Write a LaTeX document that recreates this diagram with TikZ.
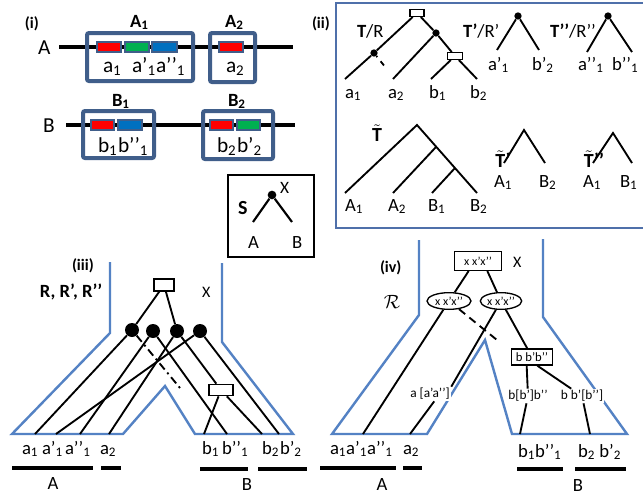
\documentclass[tikz,border=0pt]{standalone}
\usepackage{fontspec}
\setmainfont{Carlito}
\usetikzlibrary{shapes.geometric}
\definecolor{boxblue}{RGB}{64,94,138}
\definecolor{outblue}{RGB}{84,130,196}
\definecolor{iiblue}{RGB}{79,112,170}
\definecolor{gred}{RGB}{255,0,0}
\definecolor{ggreen}{RGB}{0,176,80}
\definecolor{gblue}{RGB}{0,112,192}
\newcommand\subs[1]{\textsubscript{#1}}
\newcommand\fsz[1]{\fontsize{#1}{#1}\selectfont}
\newcommand\tldT{\ensuremath{\tilde{\mbox{\bfseries T}}}}
\begin{document}
\begin{tikzpicture}[x=0.75pt,y=-0.75pt,
 txt/.style={inner sep=0pt, outer sep=0pt, anchor=base west},
 ctxt/.style={inner sep=0pt, outer sep=0pt},
 chrom/.style={line width=3pt},
 gbox/.style={draw=boxblue, line width=3pt, rounded corners=1.5pt},
 gene/.style={draw=boxblue, line width=0.9pt},
 tline/.style={line width=1.4pt},
 outl/.style={draw=outblue, line width=1.8pt},
 gbar/.style={line width=3.6pt},
 sdot/.style={circle, fill=black, inner sep=0pt, minimum size=5.5pt},
 bigdot/.style={circle, fill=black, inner sep=0pt, minimum size=10.5pt},
 rbox/.style={draw, fill=white, line width=1pt, inner sep=0pt},
 ebox/.style={draw, ellipse, fill=white, line width=1pt, inner sep=0pt},
 mlabel/.style={fill=white, inner sep=1pt, font=\fsz{10}},
 dashdot/.style={dash pattern=on 6pt off 3pt on 1.5pt off 3pt},
]
\useasboundingbox (0,0) rectangle (643,496);
\fill[white] (0,0) rectangle (643,496);

% ---------------- (i)
\node[txt, font=\bfseries\fsz{12}] (labi) at (25,28) {(i)};
\node[txt, font=\bfseries\fsz{12}] (labii) at (312,28) {(ii)};
\node[txt, font=\fsz{16}] (chrA) at (38,54) {A};
\node[txt, font=\fsz{16}] (chrB) at (43,132) {B};
\coordinate (Al) at (59,47); \coordinate (Ar) at (293,47);
\coordinate (Bl) at (66,125); \coordinate (Br) at (295,125);
\draw[chrom] (Al) -- (Ar);
\draw[chrom] (Bl) -- (Br);
\draw[gbox] (87,33) rectangle (193,81);
\draw[gbox] (210,33) rectangle (255,82);
\draw[gbox] (83,111) rectangle (154,158);
\draw[gbox] (203,111) rectangle (273,159);
\filldraw[gene, fill=gred] (97,42) rectangle (121,52);
\filldraw[gene, fill=ggreen] (125,42) rectangle (149,52);
\filldraw[gene, fill=gblue] (152,42) rectangle (177,52);
\filldraw[gene, fill=gred] (219,42) rectangle (243,52);
\filldraw[gene, fill=gred] (91,120) rectangle (114,130);
\filldraw[gene, fill=gblue] (118,120) rectangle (142,130);
\filldraw[gene, fill=gred] (210,120) rectangle (233,130);
\filldraw[gene, fill=ggreen] (237,120) rectangle (260,130);
\node[txt, font=\bfseries\fsz{14}] (A1l) at (130,27) {A\subs{1}};
\node[txt, font=\bfseries\fsz{14}] (A2l) at (225,27) {A\subs{2}};
\node[txt, font=\bfseries\fsz{14}] (B1l) at (112,106) {B\subs{1}};
\node[txt, font=\bfseries\fsz{14}] (B2l) at (228,106) {B\subs{2}};
\node[txt, font=\fsz{16}] (ia1) at (103,72) {a\subs{1}};
\node[txt, font=\fsz{16}] (ia1p) at (132,72) {a’\subs{1}};
\node[txt, font=\fsz{16}] (ia1pp) at (156,72) {a’’\subs{1}};
\node[txt, font=\fsz{16}] (ia2) at (226,72) {a\subs{2}};
\node[txt, font=\fsz{16}] (ib1) at (98,152) {b\subs{1}};
\node[txt, font=\fsz{16}] (ib1pp) at (118,152) {b’’\subs{1}};
\node[txt, font=\fsz{16}] (ib2) at (217,152) {b\subs{2}};
\node[txt, font=\fsz{16}] (ib2p) at (237,152) {b’\subs{2}};

% ---------------- (ii)
\draw[draw=iiblue, line width=1.5pt] (336,3) rectangle (652,228);
\node[txt, font=\fsz{14}] (TR) at (357,37) {\textbf{T}/R};
\node[txt, font=\fsz{14}] (TRp) at (463,37) {\textbf{T’}/R’};
\node[txt, font=\fsz{14}] (TRpp) at (550,37) {\textbf{T’’}/R’’};
\node[rbox, minimum width=10.5pt, minimum height=5pt] (r0) at (417,13) {};
\node[rbox, minimum width=11.5pt, minimum height=5pt] (r1) at (455,56) {};
\node[sdot] (tnR) at (436,33) {};
\node[sdot] (tnL) at (374,53) {};
\coordinate (la1) at (345,79); \coordinate (la2) at (393,79);
\coordinate (lb1) at (431,79); \coordinate (lb2) at (477,79);
\coordinate (ldash) at (386,68);
\draw[tline] (r0) -- (tnL) -- (la1);
\draw[tline] (r0) -- (tnR) -- (r1) -- (lb2);
\draw[tline] (tnR) -- (la2);
\draw[tline] (r1) -- (lb1);
\draw[tline, dash pattern=on 1pt off 4pt on 4pt off 10pt] (tnL) -- (ldash);
\node[txt, font=\fsz{14}] at (345,98) {a\subs{1}};
\node[txt, font=\fsz{14}] at (388,98) {a\subs{2}};
\node[txt, font=\fsz{14}] at (429,98) {b\subs{1}};
\node[txt, font=\fsz{14}] at (470,98) {b\subs{2}};
% T'
\node[sdot] (tp) at (518,16) {};
\coordinate (tpl) at (497,50); \coordinate (tpr) at (539,50);
\draw[tline] (tpl) -- (tp) -- (tpr);
\node[txt, font=\fsz{14}] at (488,70) {a’\subs{1}};
\node[txt, font=\fsz{14}] at (532,70) {b’\subs{2}};
% T''
\node[sdot] (tpp) at (608,16) {};
\coordinate (tppl) at (587,52); \coordinate (tppr) at (632,52);
\draw[tline] (tppl) -- (tpp) -- (tppr);
\node[txt, font=\fsz{14}] at (578,70) {a’’\subs{1}};
\node[txt, font=\fsz{14}] at (612,70) {b’’\subs{1}};
% T tilde
\node[ctxt, font=\fsz{15}] (Tt) at (377,133) {\tldT};
\coordinate (tt0) at (417,125); \coordinate (tt1) at (436,147); \coordinate (tt2) at (455,168);
\coordinate (tA1) at (345,193); \coordinate (tA2) at (393,193);
\coordinate (tB1) at (432,193); \coordinate (tB2) at (477,193);
\draw[tline] (tA1) -- (tt0) -- (tB2);
\draw[tline] (tA2) -- (tt1);
\draw[tline] (tB1) -- (tt2);
\node[txt, font=\fsz{14}] at (345,211) {A\subs{1}};
\node[txt, font=\fsz{14}] at (388,211) {A\subs{2}};
\node[txt, font=\fsz{14}] at (428,211) {B\subs{1}};
\node[txt, font=\fsz{14}] at (470,211) {B\subs{2}};
\node[ctxt, font=\fsz{15}] (Ttp) at (503,159) {\tldT\textbf{’}};
\coordinate (ttp0) at (524,130); \coordinate (ttpl) at (504,163); \coordinate (ttpr) at (545,163);
\draw[tline] (ttpl) -- (ttp0) -- (ttpr);
\node[txt, font=\fsz{14}] at (494,187) {A\subs{1}};
\node[txt, font=\fsz{14}] at (539,187) {B\subs{2}};
\node[ctxt, font=\fsz{15}] (Ttpp) at (594,159) {\tldT\textbf{’’}};
\coordinate (ttpp0) at (613,133); \coordinate (ttppl) at (593,163); \coordinate (ttppr) at (632,163);
\draw[tline] (ttppl) -- (ttpp0) -- (ttppr);
\node[txt, font=\fsz{14}] at (583,187) {A\subs{1}};
\node[txt, font=\fsz{14}] at (620,187) {B\subs{1}};

% ---------------- S box
\draw[line width=1.2pt] (228,175) rectangle (314,257);
\node[sdot, minimum size=6.5pt] (sx) at (272,195) {};
\coordinate (sA) at (253,222); \coordinate (sB) at (292,222);
\draw[line width=1.6pt] (sA) -- (sx) -- (sB);
\node[txt, font=\bfseries\fsz{15}] at (238,214) {S};
\node[txt, font=\fsz{13}] at (280,193) {X};
\node[txt, font=\fsz{14}] at (248,248) {A};
\node[txt, font=\fsz{14}] at (292,248) {B};

% ---------------- (iii)
\node[txt, font=\bfseries\fsz{12}] at (72,270) {(iii)};
\node[txt, font=\bfseries\fsz{14}] at (40,297) {R, R’, R’’};
\node[txt, font=\fsz{12}] at (202,297) {X};
\draw[outl] (110,262) -- (110,333) -- (12,434) -- (123,434) -- (165,386) -- (195,434) -- (293,434) -- (222,342) -- (222,263);
\node[rbox, minimum width=15pt, minimum height=9pt] (rr) at (164,285) {};
\node[bigdot] (d1) at (132,330) {};
\node[bigdot] (d2) at (153,331) {};
\node[bigdot] (d3) at (177,331) {};
\node[bigdot] (d4) at (200,331) {};
\node[rbox, minimum width=18pt, minimum height=8.5pt] (lr) at (221,390) {};
\coordinate (pa1) at (35,434); \coordinate (pa1p) at (56,434);
\coordinate (pa1pp) at (80,434); \coordinate (pa2) at (109,434);
\coordinate (pb1) at (204,434); \coordinate (pb1pp) at (227,434);
\coordinate (pb2) at (262,434); \coordinate (pb2p) at (279,434);
\coordinate (pdash) at (180,388);
\draw[tline] (rr) -- (d1);
\draw[tline] (rr) -- (d3);
\draw[tline] (d1) -- (pa1);
\draw[tline, dashdot] (d1) -- (pdash);
\draw[tline] (d2) -- (pa1pp);
\draw[tline] (d2) -- (pb1pp);
\draw[tline] (d3) -- (pa2);
\draw[tline] (d3) -- (lr) -- (pb2);
\draw[tline] (lr) -- (pb1);
\draw[tline] (d4) -- (pa1p);
\draw[tline] (d4) -- (pb2p);
\node[txt, font=\fsz{14}] at (22,454) {a\subs{1}};
\node[txt, font=\fsz{14}] at (42,454) {a’\subs{1}};
\node[txt, font=\fsz{14}] at (65,454) {a’’\subs{1}};
\node[txt, font=\fsz{14}] at (100,454) {a\subs{2}};
\node[txt, font=\fsz{14}] at (202,454) {b\subs{1}};
\node[txt, font=\fsz{14}] at (222,454) {b’’\subs{1}};
\node[txt, font=\fsz{14}] at (262,454) {b\subs{2}};
\node[txt, font=\fsz{14}] at (280,454) {b’\subs{2}};
\coordinate (bA1l) at (12,468); \coordinate (bA1r) at (93,468);
\coordinate (bA2l) at (101,468); \coordinate (bA2r) at (121,468);
\coordinate (bB1l) at (200,469); \coordinate (bB1r) at (248,469);
\coordinate (bB2l) at (258,469); \coordinate (bB2r) at (307,469);
\draw[gbar] (bA1l) -- (bA1r); \draw[gbar] (bA2l) -- (bA2r);
\draw[gbar] (bB1l) -- (bB1r); \draw[gbar] (bB2l) -- (bB2r);
\node[ctxt, font=\fsz{14}] at (53,484) {A};
\node[ctxt, font=\fsz{14}] at (247,485) {B};

% ---------------- (iv)
\node[txt, font=\bfseries\fsz{12}] at (380,272) {(iv)};
\node[ctxt, font=\fsz{15}] at (392,302) {$\mathcal{R}$};
\node[txt, font=\fsz{12}] at (513,267) {X};
\draw[outl] (419,240) -- (419,315) -- (332,434) -- (427,434) -- (485,340) -- (512,434) -- (627,434) -- (543,317) -- (543,239);
\node[rbox, minimum width=35pt, minimum height=14pt, font=\fsz{9}] (tr) at (478,261) {x x’x’’};
\node[ebox, minimum width=33pt, minimum height=12.5pt, font=\fsz{9}] (el) at (449,301) {x x’x’’};
\node[ebox, minimum width=31pt, minimum height=12.5pt, font=\fsz{9}] (er) at (501,301) {x x’x’’};
\node[rbox, minimum width=31pt, minimum height=12pt, font=\fsz{9.5}] (br) at (532,357) {b b’b’’};
\node[mlabel] (lab4a) at (430,394) {a [a’a’’]};
\node[mlabel] (lab4b) at (528,396) {b[b’]b’’};
\node[mlabel] (lab4c) at (582,396) {b b’[b’’]};
\coordinate (qa) at (363,434); \coordinate (qa2) at (410,434);
\coordinate (qb1) at (520,434); \coordinate (qb2) at (590,434);
\coordinate (qdash) at (497,340);
\draw[tline] ([xshift=-7pt]tr.south) -- (el);
\draw[tline] ([xshift=7pt]tr.south) -- (er);
\draw[tline] (el) -- (qa);
\draw[tline, dash pattern=on 6pt off 4pt] (el) -- (qdash);
\draw[tline] (er) -- (lab4a.north east);
\draw[tline] (lab4a.300) -- (qa2);
\draw[tline] (er) -- (br);
\draw[tline] ([xshift=-4pt]br.south) -- (lab4b);
\draw[tline] (lab4b) -- (qb1);
\draw[tline] ([xshift=4pt]br.south) -- (lab4c);
\draw[tline] (lab4c) -- (qb2);
\node[txt, font=\fsz{14}] at (330,454) {a\subs{1}a’\subs{1}a’’\subs{1}};
\node[txt, font=\fsz{14}] at (403,454) {a\subs{2}};
\node[txt, font=\fsz{14}] at (518,457) {b\subs{1}b’’\subs{1}};
\node[txt, font=\fsz{14}] at (578,457) {b\subs{2} b’\subs{2}};
\coordinate (cA1l) at (320,468); \coordinate (cA1r) at (396,468);
\coordinate (cA2l) at (403,468); \coordinate (cA2r) at (422,468);
\coordinate (cB1l) at (517,469); \coordinate (cB1r) at (563,469);
\coordinate (cB2l) at (575,469); \coordinate (cB2r) at (626,469);
\draw[gbar] (cA1l) -- (cA1r); \draw[gbar] (cA2l) -- (cA2r);
\draw[gbar] (cB1l) -- (cB1r); \draw[gbar] (cB2l) -- (cB2r);
\node[ctxt, font=\fsz{14}] at (382,485) {A};
\node[ctxt, font=\fsz{14}] at (578,486) {B};
\end{tikzpicture}
\end{document}
